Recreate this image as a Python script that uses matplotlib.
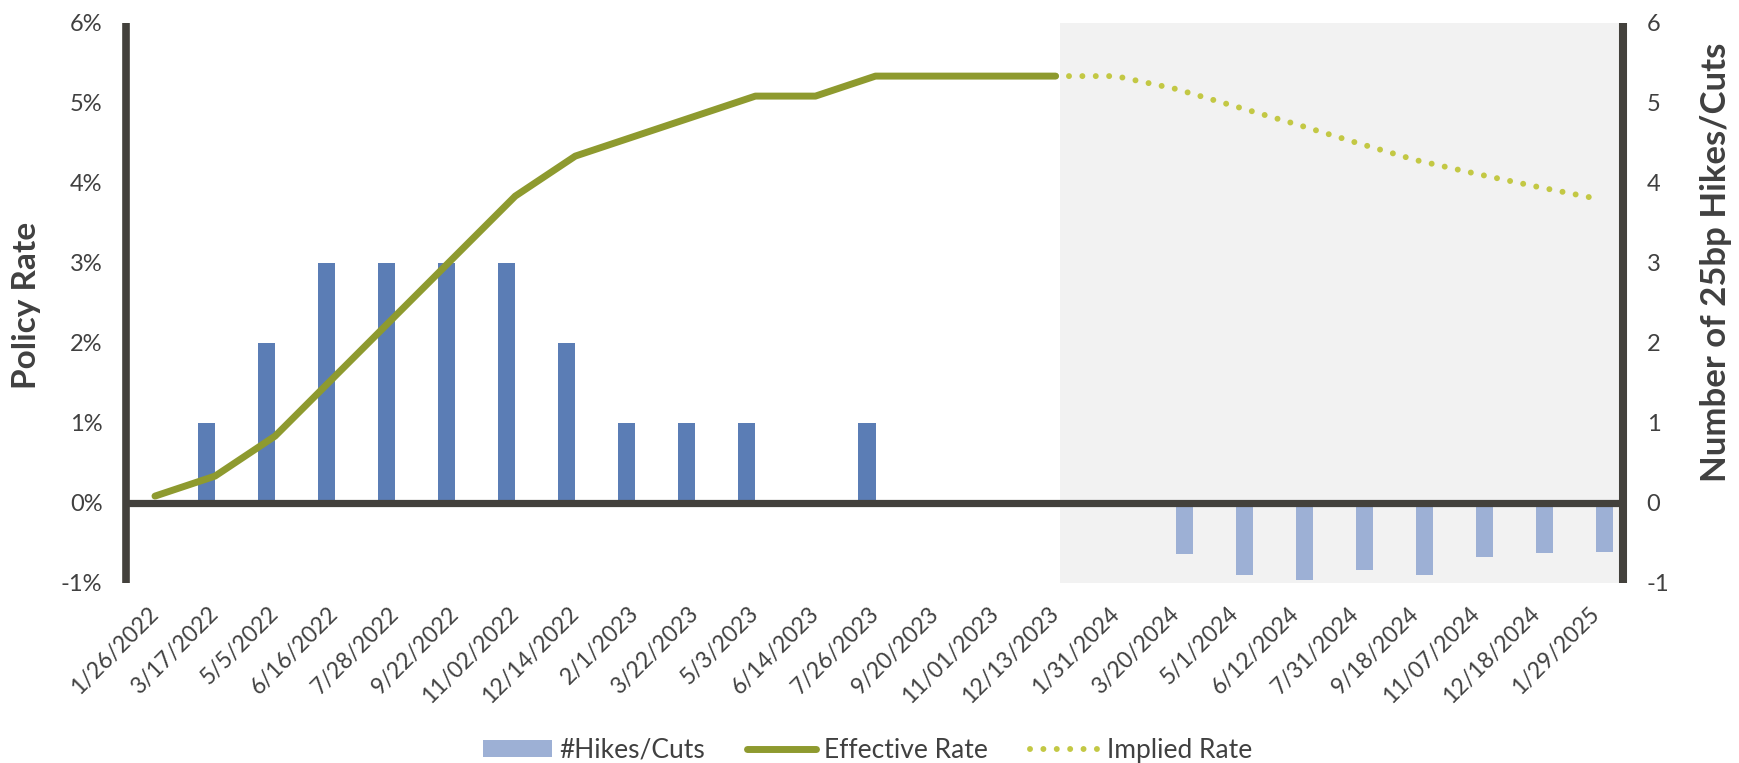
import matplotlib
matplotlib.use("Agg")
import matplotlib.pyplot as plt
from matplotlib.ticker import FixedLocator, FuncFormatter
import numpy as np

# ---- data -------------------------------------------------------------
dates = ["1/26/2022", "3/17/2022", "5/5/2022", "6/16/2022", "7/28/2022",
         "9/22/2022", "11/02/2022", "12/14/2022", "2/1/2023", "3/22/2023",
         "5/3/2023", "6/14/2023", "7/26/2023", "9/20/2023", "11/01/2023",
         "12/13/2023", "1/31/2024", "3/20/2024", "5/1/2024", "6/12/2024",
         "7/31/2024", "9/18/2024", "11/07/2024", "12/18/2024", "1/29/2025"]

# number of 25bp hikes at each meeting (realised)
hikes = [0, 1, 2, 3, 3, 3, 3, 2, 1, 1, 1, 0, 1, 0, 0, 0,
         0, 0, 0, 0, 0, 0, 0, 0, 0]
# number of 25bp cuts priced in (implied)
cuts = [0, 0, 0, 0, 0, 0, 0, 0, 0, 0, 0, 0, 0, 0, 0, 0,
        0, -0.64, -0.91, -0.965, -0.845, -0.905, -0.685, -0.635, -0.62]

# effective policy rate (%) through 12/13/2023
effective_rate = [0.08, 0.33, 0.83, 1.58, 2.33, 3.08, 3.83, 4.33, 4.58,
                  4.83, 5.08, 5.08, 5.33, 5.33, 5.33, 5.33]
# market implied policy rate (%) from 12/13/2023 onward
implied_rate = [5.33, 5.33, 5.17, 4.95, 4.73, 4.50, 4.28, 4.11, 3.95, 3.80]

left_ticks = [-1, 0, 1, 2, 3, 4, 5, 6]
right_ticks = [-1, 0, 1, 2, 3, 4, 5, 6]

# ---- style ------------------------------------------------------------
plt.rcParams["font.family"] = ["Lato", "DejaVu Sans"]
TEXT = "#404040"
AXIS = "#43413C"
HIKE_C = "#5B7DB5"
CUT_C = "#9DB0D5"
EFF_C = "#8E9A2F"
IMP_C = "#C3C844"
SHADE = "#F2F2F2"

W, H = 1740, 763
fig = plt.figure(figsize=(W / 100, H / 100), dpi=100)
ax = fig.add_axes([126 / W, 1 - 582.5 / H, (1623 - 126) / W, 560 / H])
ax2 = ax.twinx()
ax.set_zorder(ax2.get_zorder() + 1)
ax.patch.set_visible(False)

x = np.arange(len(dates))
n_eff = len(effective_rate)
x_eff = x[:n_eff]
x_imp = x[n_eff - 1:n_eff - 1 + len(implied_rate)]

xlim = (-0.483, 24.45)
ylim = (-1, 6)

# forecast period shading
ax2.axvspan(x_imp[0] + 0.07, xlim[1] + 1, color=SHADE, lw=0, zorder=0)

# bars (secondary axis: count of 25bp moves)
bw = 0.285
off = 0.142
ax2.bar(x - off, hikes, width=bw, color=HIKE_C, linewidth=0, zorder=2)
cut_bars = ax2.bar(x + off, cuts, width=bw, color=CUT_C, linewidth=0, zorder=2,
                   label="#Hikes/Cuts")

# zero line
ax.axhline(0, color=AXIS, lw=5.2, zorder=3)

# rate lines (primary axis: %)
eff_line, = ax.plot(x_eff, effective_rate, color=EFF_C, lw=5.0,
                    solid_capstyle="round", solid_joinstyle="round",
                    zorder=5, label="Effective Rate")
imp_line, = ax.plot(x_imp, implied_rate, color=IMP_C, lw=4.3,
                    linestyle=(0, (0.001, 2.24)), dash_capstyle="round",
                    zorder=4, label="Implied Rate")

for a in (ax, ax2):
    a.set_xlim(*xlim)
    a.set_ylim(*ylim)

# primary axis formatting
ax.yaxis.set_major_locator(FixedLocator(left_ticks))
ax.yaxis.set_major_formatter(FuncFormatter(lambda v, p: f"{int(round(v))}%"))
ax.tick_params(axis="y", length=0, pad=17, labelsize=17, labelcolor=TEXT)
ax.set_xticks(x)
ax.set_xticklabels(dates, rotation=45, ha="right", va="center",
                   rotation_mode="anchor")
ax.tick_params(axis="x", length=0, pad=20, labelsize=16.5, labelcolor=TEXT)

# secondary axis formatting
ax2.yaxis.set_major_locator(FixedLocator(right_ticks))
ax2.yaxis.set_major_formatter(FuncFormatter(lambda v, p: f"{int(round(v))}"))
ax2.tick_params(axis="y", length=0, pad=17, labelsize=17, labelcolor=TEXT)

# axis titles
fig.text(27 / W, 1 - 305 / H, "Policy Rate", rotation=90, ha="center",
         va="center", fontsize=24, fontweight="bold", color=TEXT)
fig.text(1716 / W, 1 - 262 / H, "Number of 25bp Hikes/Cuts", rotation=90,
         ha="center", va="center", fontsize=25, fontweight="bold", color=TEXT)

for name, sp in ax.spines.items():
    sp.set_visible(name == "left")
for name, sp in ax2.spines.items():
    sp.set_visible(name == "right")
ax.spines["left"].set_color(AXIS)
ax.spines["left"].set_linewidth(5.5)
ax.spines["left"].set_capstyle("butt")
ax2.spines["right"].set_color(AXIS)
ax2.spines["right"].set_linewidth(5.8)
ax2.spines["right"].set_capstyle("butt")

leg = fig.legend([cut_bars, eff_line, imp_line],
                 ["#Hikes/Cuts", "Effective Rate", "Implied Rate"],
                 loc="center", bbox_to_anchor=(0.4985, 0.017), ncol=3,
                 frameon=False, fontsize=19, handlelength=2.6,
                 handleheight=0.6, handletextpad=0.3, columnspacing=1.6)
for t in leg.get_texts():
    t.set_color(TEXT)

fig.savefig("out.png", dpi=100)
